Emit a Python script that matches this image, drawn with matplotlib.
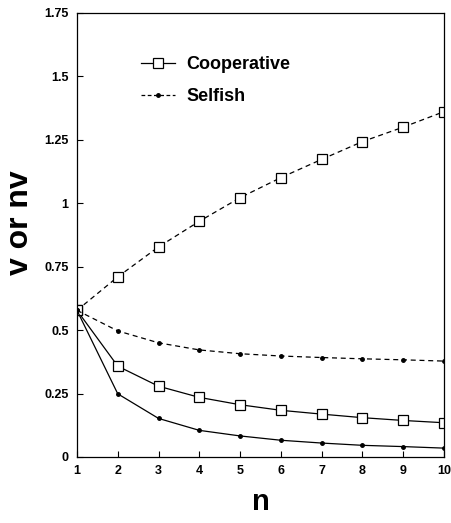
import matplotlib
matplotlib.use("Agg")
import matplotlib.pyplot as plt

n = [1, 2, 3, 4, 5, 6, 7, 8, 9, 10]
coop_nv = [0.578, 0.71, 0.828, 0.929, 1.022, 1.101, 1.173, 1.243, 1.300, 1.361]
coop_v = [0.578, 0.358, 0.279, 0.235, 0.206, 0.184, 0.169, 0.155, 0.144, 0.135]
self_nv = [0.578, 0.497, 0.450, 0.422, 0.407, 0.398, 0.392, 0.387, 0.383, 0.378]
self_v = [0.578, 0.249, 0.152, 0.105, 0.083, 0.066, 0.055, 0.046, 0.041, 0.035]
yticks = [0, 0.25, 0.5, 0.75, 1, 1.25, 1.5, 1.75]
ytick_labels = ["0", "0.25", "0.5", "0.75", "1", "1.25", "1.5", "1.75"]

plt.rcParams['font.family'] = ['Liberation Sans', 'DejaVu Sans']

fig = plt.figure(figsize=(4.51, 5.23), dpi=100)
ax = fig.add_axes([0.1707, 0.1262, 0.8137, 0.849])

lw = 0.9
ax.plot(n, coop_nv, color='black', lw=lw, ls=(0, (4, 3)), marker='s', ms=7,
        mfc='white', mec='black', mew=0.9)
ax.plot(n, coop_v, color='black', lw=lw, ls='-', marker='s', ms=7,
        mfc='white', mec='black', mew=0.9)
ax.plot(n, self_nv, color='black', lw=lw, ls=(0, (4, 3)), marker='o', ms=2.5)
ax.plot(n, self_v, color='black', lw=lw, ls='-', marker='o', ms=2.5)

# legend handles
h1, = ax.plot([], [], color='black', lw=lw, ls='-', marker='s', ms=7,
              mfc='white', mec='black', mew=0.9, label='Cooperative')
h2, = ax.plot([], [], color='black', lw=lw, ls=(0, (3, 2)), marker='o', ms=2.5,
              label='Selfish')
leg = ax.legend(handles=[h1, h2], loc='upper left', bbox_to_anchor=(0.13, 0.94),
                frameon=False, handlelength=1.9, handletextpad=0.6,
                labelspacing=0.85, prop={'weight': 'bold', 'size': 13})

ax.set_xlim(1, 10)
ax.set_ylim(0, 1.75)
ax.set_xticks(n)
ax.set_xticklabels([str(v) for v in n])
ax.set_yticks(yticks)
ax.set_yticklabels(ytick_labels)
ax.tick_params(direction='in', length=4, width=0.8, labelsize=9, pad=6)
for lab in ax.get_xticklabels() + ax.get_yticklabels():
    lab.set_fontweight('bold')
for s in ax.spines.values():
    s.set_linewidth(0.9)

ax.set_xlabel('n', fontsize=21, fontweight='bold')
ax.xaxis.set_label_coords(0.5, -0.07)
ax.set_ylabel('v or nv', fontsize=23, fontweight='bold')
ax.yaxis.set_label_coords(-0.115, 0.528)

fig.savefig('out.png', dpi=100)
